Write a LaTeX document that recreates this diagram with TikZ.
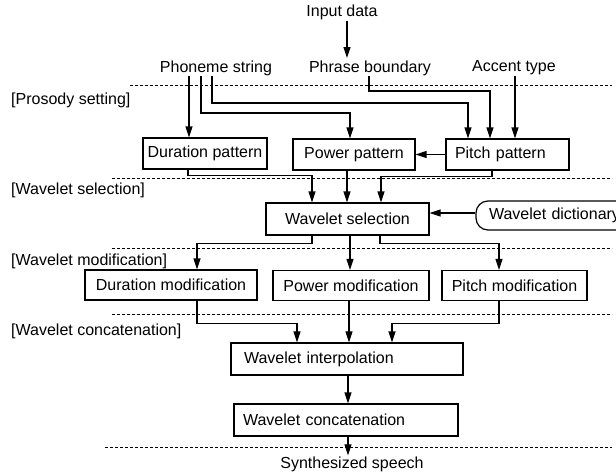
\documentclass[tikz,border=0pt]{standalone}
\usepackage{fontspec}
\setmainfont{Liberation Sans}
\usetikzlibrary{arrows.meta,calc}
\begin{document}
\begin{tikzpicture}[x=1pt,y=-1pt,
  font=\fontsize{16}{19}\selectfont,
  box/.style={draw, line width=1.2pt, inner sep=0pt, align=center},
  lbox/.style={draw, line width=1.2pt, inner ysep=0pt, align=left},
  txt/.style={inner sep=1pt},
  arr/.style={line width=1.2pt, -{Triangle[length=11pt,width=7pt]}},
  sep/.style={line width=0.9pt, dash pattern=on 3pt off 2pt}]
\useasboundingbox (0,0) rectangle (616,472);
\clip (0,0) rectangle (616,472);
% separators
\draw[sep] (130,85) -- (612,85);
\draw[sep] (112,178) -- (612,178);
\draw[sep] (112,248) -- (612,248);
\draw[sep] (112,314) -- (612,314);
\draw[sep] (105,447) -- (612,447);
% stage labels
\node[txt, anchor=west] (l1) at (10,100) {[Prosody setting]};
\node[txt, anchor=west] (l2) at (10,190) {[Wavelet selection]};
\node[txt, anchor=west] (l3) at (10,261) {[Wavelet modification]};
\node[txt, anchor=west] (l4) at (10,331) {[Wavelet concatenation]};
% input texts
\node[txt] (in) at (342,12) {Input data};
\node[txt] (ph) at (216,68) {Phoneme string};
\node[txt] (pb) at (370,68) {Phrase boundary};
\node[txt] (ac) at (514,68) {Accent type};
\node[txt] (sp) at (352,464) {Synthesized speech};
% boxes
\node[box, minimum width=124pt, minimum height=31pt] (dur) at (205,153.5) {Duration pattern};
\node[box, minimum width=122pt, minimum height=31pt] (pow) at (354,154.5) {Power pattern};
\node[lbox, inner xsep=9pt, text width=105pt, minimum height=31pt] (pit) at (507.5,154.5) {Pitch pattern};
\node[box, minimum width=163pt, minimum height=32pt] (sel) at (347.5,219) {Wavelet selection};
\node[lbox, inner xsep=13pt, text width=143pt, minimum height=29pt, rounded corners=12pt] (dic) at (560.5,215.5) {Wavelet dictionary};
\node[box, minimum width=172pt, minimum height=30pt] (dmod) at (171,285) {Duration modification};
\node[box, minimum width=156pt, minimum height=30pt] (pmod) at (351,285.5) {Power modification};
\node[box, minimum width=145pt, minimum height=30pt] (tmod) at (514.5,285.5) {Pitch modification};
\node[lbox, inner xsep=13pt, text width=206pt, minimum height=32pt] (int) at (347,359) {Wavelet interpolation};
\node[lbox, inner xsep=9pt, text width=206pt, minimum height=32pt] (con) at (346,420) {Wavelet concatenation};
% input arrows
\coordinate (inend) at (347,58);
\draw[arr] (inend |- in.south) -- (inend);
\coordinate (p1) at (189,76);
\coordinate (p2) at (201,76);
\coordinate (p3) at (212,76);
\coordinate (q1) at (369,76);
\coordinate (a1) at (515,76);
\draw[arr] (p1) -- (p1 |- dur.north);
\draw[arr] (p2) -- (201,113) -| ([xshift=-4pt]pow.north);
\draw[arr] (p3) -- (212,103) -| ([xshift=-39.5pt]pit.north);
\draw[arr] (q1) -- (369,91) -| ([xshift=-17.5pt]pit.north);
\draw[arr] (a1) -- (a1 |- pit.north);
\draw[arr] (pit.west) -- (pow.east);
% to selection
\draw[arr] ([xshift=-17pt]dur.south) -- ++(0,6) -| ([xshift=-35.5pt]sel.north);
\draw[arr] ([xshift=-7pt]pow.south) -- ([xshift=-7pt]pow.south |- sel.north);
\draw[arr] ([xshift=-15.5pt]pit.south) -- ++(0,6) -| ([xshift=33.5pt]sel.north);
\draw[arr] ([yshift=2.5pt]dic.west) -- ([yshift=2.5pt]dic.west -| sel.east);
% to modification
\draw[arr] ([xshift=-35.5pt]sel.south) -- ++(0,8) -| ([xshift=26pt]dmod.north);
\draw[arr] ([xshift=2.5pt]sel.south) -- ([xshift=2.5pt]sel.south |- pmod.north);
\draw[arr] ([xshift=32.5pt]sel.south) -- ++(0,8) -| ([xshift=-15.5pt]tmod.north);
% to interpolation
\draw[arr] ([xshift=26pt]dmod.south) -- ++(0,23) -| ([xshift=-50pt]int.north);
\draw[arr] ([xshift=-2pt]pmod.south) -- ([xshift=-2pt]pmod.south |- int.north);
\draw[arr] ([xshift=-15.5pt]tmod.south) -- ++(0,22) -| ([xshift=45pt]int.north);
% final
\draw[arr] ([xshift=1pt]int.south) -- ([xshift=1pt]int.south |- con.north);
\draw[arr] ([xshift=2pt]con.south) -- ([xshift=2pt]con.south |- sp.north);
\end{tikzpicture}
\end{document}
